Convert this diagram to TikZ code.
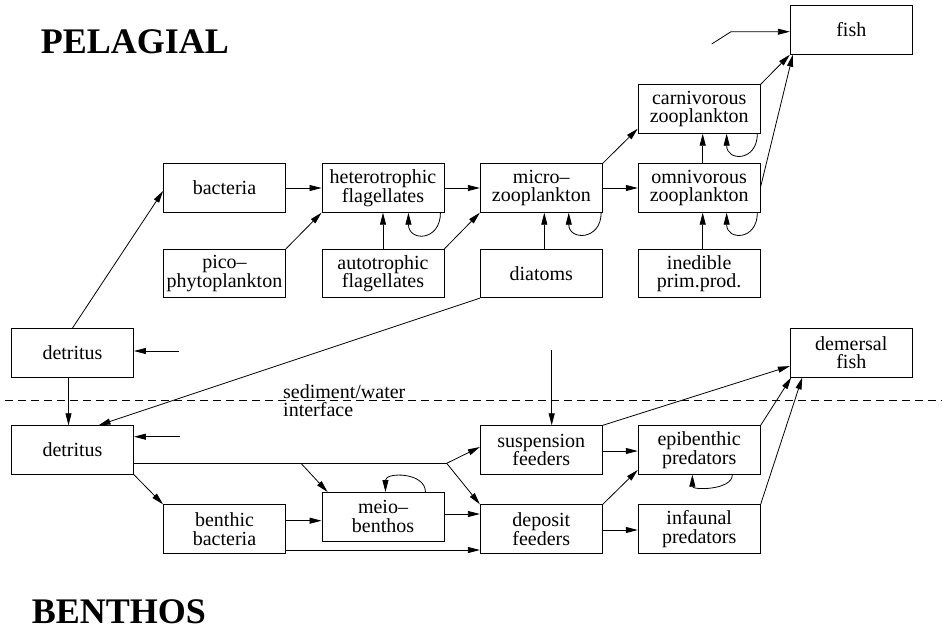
\documentclass[tikz,border=0pt]{standalone}
\usepackage{fontspec}
\setmainfont{Liberation Serif}
\usetikzlibrary{arrows.meta,calc}
\begin{document}
\begin{tikzpicture}[x=1pt,y=-1pt,
  box/.style={draw,line width=0.9pt,minimum width=122pt,minimum height=48.5pt,inner sep=0pt,align=center,font=\fontsize{20}{18.5}\selectfont},
  arr/.style={-{Triangle[length=12pt,width=6pt]},line width=0.8pt},
  ln/.style={line width=0.8pt},
  title/.style={anchor=base west,inner sep=0pt,font=\fontsize{36}{40}\selectfont\bfseries}]
\useasboundingbox (0,0) rectangle (942,630);
% titles
\node[title] (tpel) at (40.7,53.3) {PELAGIAL};
\node[title] (tben) at (31.7,623.3) {BENTHOS};
% pelagic boxes
\node[box] (bact) at (224.5,188) {bacteria};
\node[box] (pico) at (224.5,273.5) {pico--\\phytoplankton};
\node[box] (het) at (383,188) {heterotrophic\\flagellates};
\node[box] (auto) at (383,273.5) {autotrophic\\flagellates};
\node[box] (micro) at (541.3,188) {micro--\\zooplankton};
\node[box] (diat) at (541.3,273.5) {diatoms};
\node[box] (carn) at (699.2,109) {carnivorous\\zooplankton};
\node[box] (omni) at (699.2,188) {omnivorous\\zooplankton};
\node[box] (ined) at (699.2,273.5) {inedible\\prim.prod.};
\node[box] (fish) at (851.3,30) {fish};
\node[box] (detp) at (72.5,352.7) {detritus};
% benthic boxes
\node[box] (detb) at (72.5,450) {detritus};
\node[box] (bbac) at (224.5,529) {benthic\\bacteria};
\node[box] (meio) at (383,516.7) {meio--\\benthos};
\node[box] (susp) at (541.3,450) {suspension\\feeders};
\node[box] (depo) at (541.3,529) {deposit\\feeders};
\node[box] (epi) at (699.2,450) {epibenthic\\predators};
\node[box] (inf) at (699.2,529) {infaunal\\predators};
\node[box] (dfish) at (851.3,352.7) {demersal\\fish};
% interface
\draw[line width=0.8pt,dash pattern=on 8pt off 5pt] (5,400.7) -- (942,400.7);
\node[anchor=base west,inner sep=0pt,align=left,font=\fontsize{20}{18.7}\selectfont] (iface) at (283,416.7) {sediment/water\\interface};
% pelagic connectors
\draw[arr] (detp.north) -- ([yshift=-3pt]bact.west);
\draw[arr] (bact.east) -- (het.west);
\draw[arr] (pico.north east) -- (het.south west);
\draw[arr] (auto.north) -- (het.south);
\draw[arr] (het.east) -- (micro.west);
\draw[arr] (auto.north east) -- (micro.south west);
\draw[arr] ([xshift=3pt]diat.north) -- ([xshift=3pt]micro.south);
\draw[arr] (micro.north east) -- ([yshift=5pt]carn.south west);
\draw[arr] (micro.east) -- (omni.west);
\draw[arr] ([xshift=3.5pt]omni.north) -- ([xshift=3.5pt]carn.south);
\draw[arr] ([xshift=3.5pt]ined.north) -- ([xshift=3.5pt]omni.south);
\draw[arr] (carn.north east) -- (fish.south west);
\draw[arr] ([yshift=1.3pt]omni.east) -- ([xshift=3pt]fish.south west);
\coordinate (fin0) at (711.7,44);
\coordinate (fin1) at (731,31.7);
\draw[arr] (fin0) -- (fin1) -- (fin1 -| fish.west);
% self loops (pelagic)
\draw[arr] ([xshift=-4pt]het.south east) .. controls +(0,29) and +(0,29) .. ([xshift=-36pt]het.south east);
\draw[arr] ([xshift=-1.6pt]micro.south east) .. controls +(0,28) and +(0,28) .. ([xshift=-34pt]micro.south east);
\draw[arr] ([xshift=-3.3pt]carn.south east) .. controls +(0,28) and +(0,28) .. ([xshift=-34pt]carn.south east);
\draw[arr] ([xshift=-3.3pt]omni.south east) .. controls +(0,28) and +(0,28) .. ([xshift=-34pt]omni.south east);
% detritus
\coordinate (pin) at (179,351);
\draw[arr] (pin) -- (pin -| detp.east);
\draw[arr] ([xshift=-4pt]detp.south) -- ([xshift=-4pt]detb.north);
\draw[arr] (diat.south west) -- ([xshift=26pt]detb.north);
\coordinate (bin) at (180,436.7);
\draw[arr] (bin) -- (bin -| detb.east);
% benthic connectors
\coordinate (dj) at (446.7,463.3);
\coordinate (mj) at (301,463.3);
\draw[ln] (dj -| detb.east) -- (dj);
\draw[arr] (dj) -- ([yshift=3pt]susp.west);
\draw[arr] (dj) -- (depo.north west);
\draw[arr] (mj) -- ([xshift=6pt]meio.north west);
\draw[arr] (detb.south east) -- (bbac.north west);
\coordinate (bb1) at ([yshift=8.3pt]bbac.east);
\draw[arr] (bb1) -- (bb1 -| meio.west);
\coordinate (bb2) at ([yshift=-21pt]bbac.east);
\draw[arr] (bb2) -- (bb2 -| depo.west);
\coordinate (me1) at ([yshift=2.7pt]meio.east);
\draw[arr] (me1) -- (me1 -| depo.west);
\draw[arr] ([xshift=-19pt]meio.north east) .. controls +(0,-20) and +(0,-20) .. ([xshift=-59pt]meio.north east);
\coordinate (sin) at (551.7,350);
\draw[arr] (sin) -- (sin |- susp.north);
\draw[arr] (susp.north east) -- ([yshift=11.3pt]dfish.south west);
\draw[arr] ([yshift=-1pt]susp.east) -- ([yshift=-1pt]epi.west);
\draw[arr] (depo.north east) -- ([yshift=4.7pt]epi.south west);
\draw[arr] ([yshift=-1pt]depo.east) -- ([yshift=-1pt]inf.west);
\draw[arr] (epi.north east) -- ([xshift=1.4pt]dfish.south west);
\draw[arr] (inf.north east) -- ([xshift=12.4pt]dfish.south west);
\draw[arr] ([xshift=-28.3pt]epi.south east) .. controls +(0,15.6) and +(0,15.6) .. ([xshift=-68.3pt]epi.south east);
\end{tikzpicture}
\end{document}
